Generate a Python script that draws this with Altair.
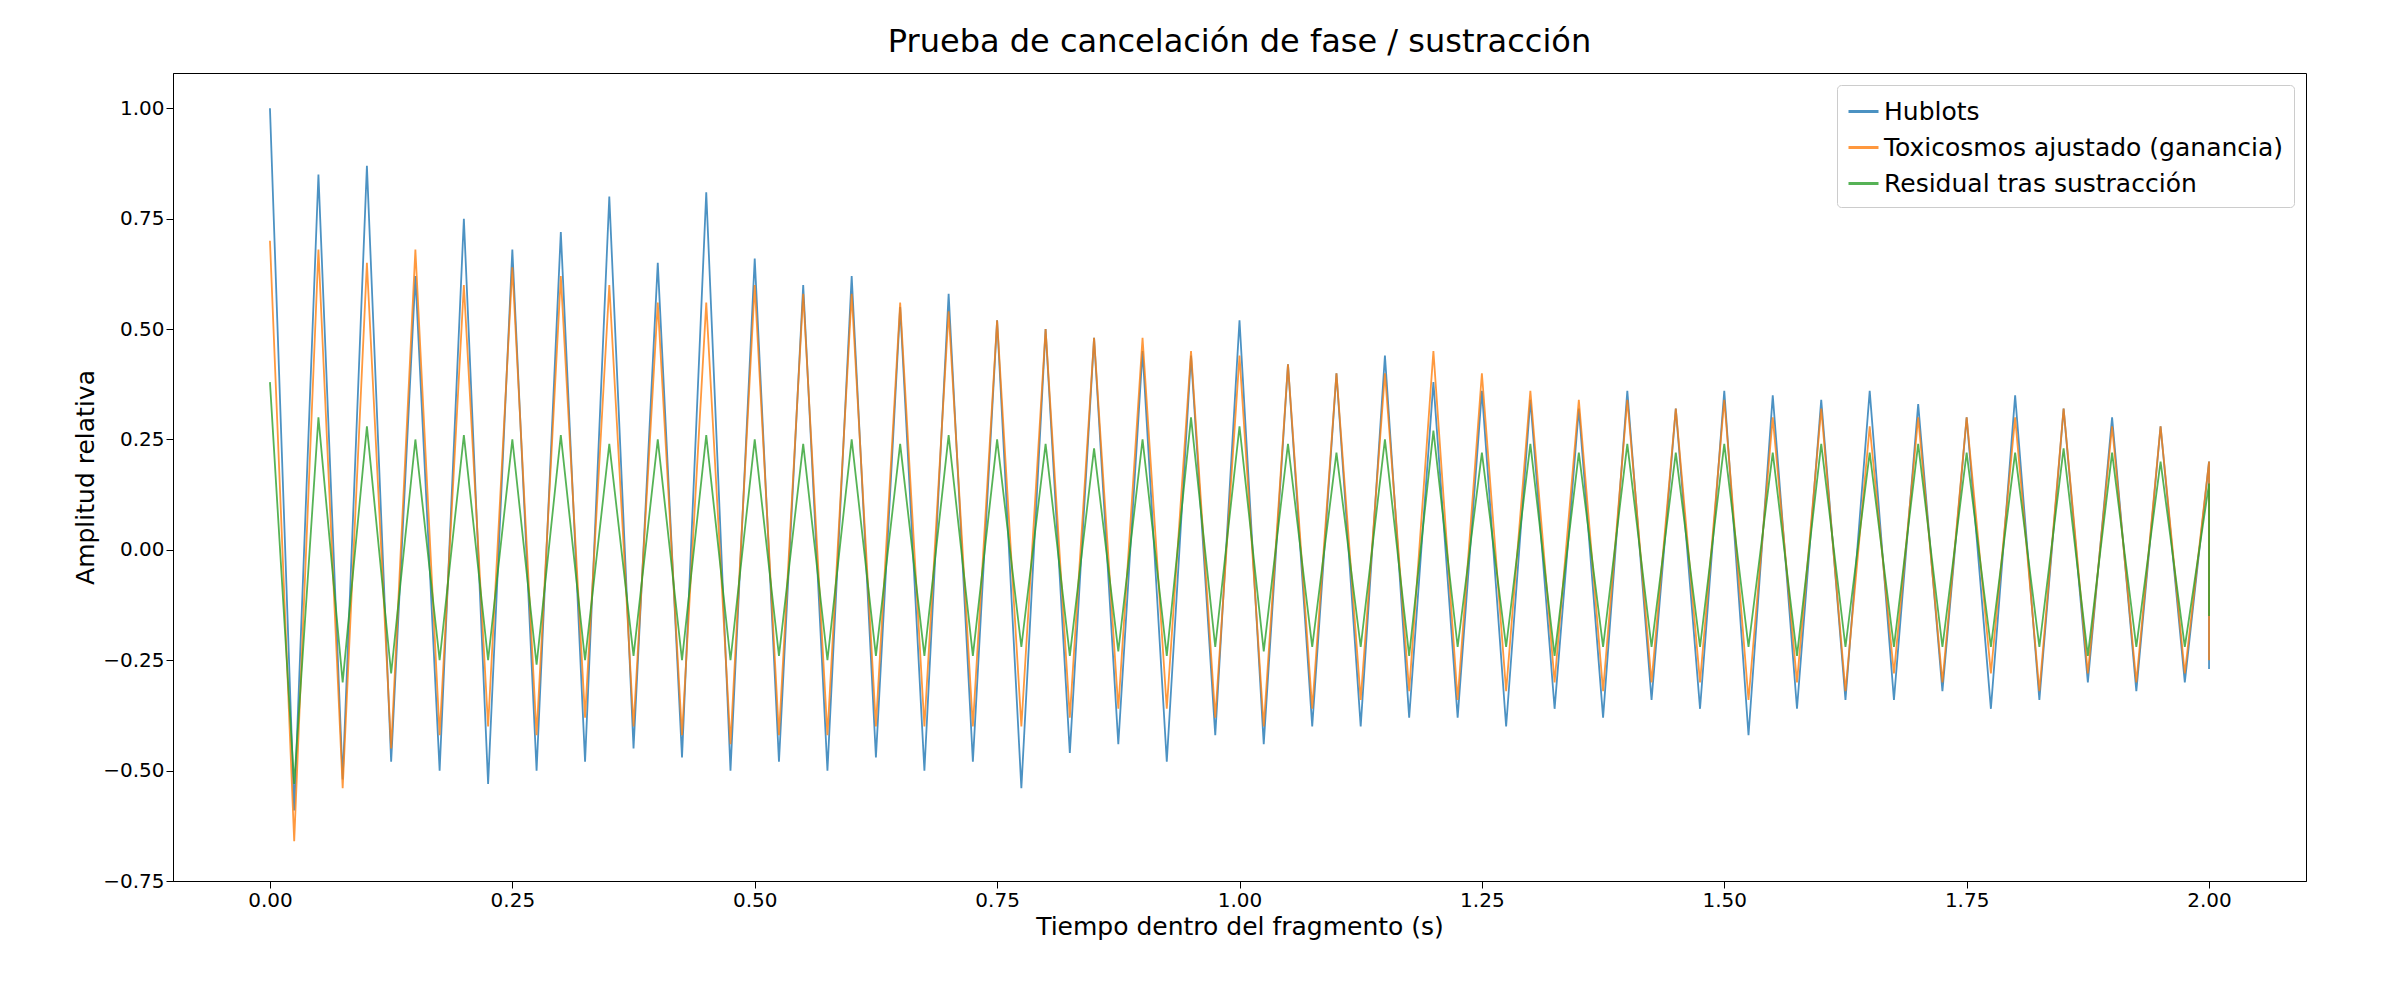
import pandas as pd
import altair as alt

# envelope, one bin every 0.05 s
times = [round(i * 0.05, 2) for i in range(41)]
hublots_hi = [1.0, 0.85, 0.87, 0.62, 0.75, 0.68, 0.72, 0.80, 0.65, 0.81, 0.66, 0.60, 0.62, 0.55, 0.58, 0.52, 0.50, 0.48, 0.45, 0.44, 0.52,
              0.42, 0.40, 0.44, 0.38, 0.36, 0.34, 0.32, 0.36, 0.32, 0.36, 0.35, 0.34, 0.36, 0.33, 0.30, 0.35, 0.32, 0.30, 0.28, 0.20]
hublots_lo = [-0.59, -0.52, -0.48, -0.50, -0.53, -0.50, -0.48, -0.45, -0.47, -0.50, -0.48, -0.50, -0.47, -0.50, -0.48, -0.54, -0.46, -0.44, -0.48, -0.42, -0.44,
              -0.40, -0.40, -0.38, -0.38, -0.40, -0.36, -0.38, -0.34, -0.36, -0.42, -0.36, -0.34, -0.34, -0.32, -0.36, -0.34, -0.30, -0.32, -0.30, -0.27]
toxi_hi = [0.70, 0.68, 0.65, 0.68, 0.60, 0.64, 0.62, 0.60, 0.56, 0.56, 0.60, 0.58, 0.58, 0.56, 0.54, 0.52, 0.50, 0.48, 0.48, 0.45, 0.44,
           0.42, 0.40, 0.40, 0.45, 0.40, 0.36, 0.34, 0.34, 0.32, 0.34, 0.30, 0.32, 0.28, 0.30, 0.30, 0.30, 0.32, 0.28, 0.28, 0.20]
toxi_lo = [-0.66, -0.54, -0.45, -0.42, -0.40, -0.42, -0.38, -0.40, -0.42, -0.44, -0.42, -0.42, -0.40, -0.40, -0.40, -0.40, -0.38, -0.36, -0.36, -0.38, -0.40,
           -0.36, -0.34, -0.32, -0.34, -0.32, -0.30, -0.32, -0.30, -0.30, -0.34, -0.30, -0.32, -0.28, -0.30, -0.28, -0.32, -0.28, -0.30, -0.28, -0.25]
resid_hi = [0.38, 0.30, 0.28, 0.25, 0.26, 0.25, 0.26, 0.24, 0.25, 0.26, 0.25, 0.24, 0.25, 0.24, 0.26, 0.25, 0.24, 0.23, 0.25, 0.30, 0.28,
            0.24, 0.22, 0.25, 0.27, 0.22, 0.24, 0.22, 0.24, 0.22, 0.24, 0.22, 0.24, 0.22, 0.24, 0.22, 0.22, 0.23, 0.22, 0.20, 0.15]
resid_lo = [-0.53, -0.30, -0.28, -0.25, -0.25, -0.26, -0.25, -0.24, -0.25, -0.25, -0.24, -0.25, -0.24, -0.24, -0.24, -0.22, -0.24, -0.23, -0.24, -0.22, -0.23,
            -0.22, -0.22, -0.24, -0.22, -0.22, -0.24, -0.22, -0.22, -0.22, -0.22, -0.24, -0.22, -0.22, -0.22, -0.22, -0.22, -0.24, -0.22, -0.22, -0.15]

names = ["Hublots", "Toxicosmos ajustado (ganancia)", "Residual tras sustracción"]
colors = ["#1f77b4", "#ff7f0e", "#2ca02c"]

rows = []
for name, hi, lo in zip(names, [hublots_hi, toxi_hi, resid_hi], [hublots_lo, toxi_lo, resid_lo]):
    for i, t in enumerate(times):
        rows.append({"serie": name, "t": t, "v": hi[i]})
        if i < len(times) - 1:
            rows.append({"serie": name, "t": t + 0.025, "v": lo[i]})
        else:
            rows.append({"serie": name, "t": t, "v": lo[i]})
df = pd.DataFrame(rows)

chart = alt.Chart(df).mark_line(strokeWidth=1.8, opacity=0.8).encode(
    x=alt.X("t:Q", title="Tiempo dentro del fragmento (s)",
            scale=alt.Scale(domain=[-0.1, 2.1], nice=False),
            axis=alt.Axis(values=[i * 0.25 for i in range(9)], format=".2f", grid=False)),
    y=alt.Y("v:Q", title="Amplitud relativa",
            scale=alt.Scale(domain=[-0.75, 1.08], nice=False),
            axis=alt.Axis(values=[-0.75 + i * 0.25 for i in range(8)], format=".2f", grid=False)),
    color=alt.Color("serie:N", title=None,
                    scale=alt.Scale(domain=names, range=colors),
                    legend=alt.Legend(orient="top-right", symbolType="stroke", symbolStrokeWidth=3,
                                      symbolSize=900, labelFontSize=25, labelLimit=800, fillColor="white",
                                      strokeColor="#cccccc", padding=10, cornerRadius=4, offset=12,
                                      rowPadding=6)),
    order=alt.Order("t:Q"),
).properties(
    width=2133, height=808,
    autosize=alt.AutoSizeParams(type="none"),
    padding={"left": 165, "top": 65, "right": 80, "bottom": 110},
    title=alt.TitleParams("Prueba de cancelación de fase / sustracción", fontSize=32,
                          fontWeight="normal", font="DejaVu Sans", offset=14),
).configure(font="DejaVu Sans").configure_axis(
    labelFontSize=20, titleFontSize=25, titleFontWeight="normal", domainColor="black", tickColor="black",
    labelColor="black", titleColor="black", labelFont="DejaVu Sans", titleFont="DejaVu Sans", tickSize=7,
).configure_legend(labelFont="DejaVu Sans").configure_view(stroke="black")

chart.save("out.html", embed_options={"renderer": "svg", "actions": False})
